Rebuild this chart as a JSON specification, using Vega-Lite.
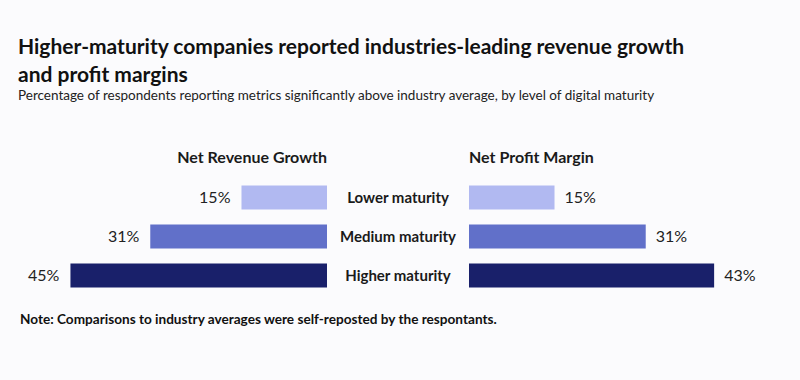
{
  "$schema": "https://vega.github.io/schema/vega-lite/v6.json",
  "background": "#fbfbfd",
  "padding": {"left": 18, "top": 36, "right": 30, "bottom": 50},
  "config": {
    "view": {"stroke": null},
    "font": "Lato",
    "concat": {"spacing": 0}
  },
  "title": {
    "text": ["Higher-maturity companies reported industries-leading revenue growth", "and profit margins"],
    "subtitle": "Percentage of respondents reporting metrics significantly above industry average, by level of  digital maturity",
    "anchor": "start",
    "font": "Lato",
    "fontSize": 21,
    "fontWeight": "bold",
    "lineHeight": 28,
    "color": "#111111",
    "subtitleFont": "Lato",
    "subtitleFontSize": 13.5,
    "subtitleColor": "#222222",
    "subtitlePadding": 3,
    "offset": 48
  },
  "data": {
    "values": [
      {"level": "Lower maturity", "revenue": 15, "profit": 15, "revenue_label": "15%", "profit_label": "15%"},
      {"level": "Medium maturity", "revenue": 31, "profit": 31, "revenue_label": "31%", "profit_label": "31%"},
      {"level": "Higher maturity", "revenue": 45, "profit": 43, "revenue_label": "45%", "profit_label": "43%"}
    ]
  },
  "vconcat": [
    {
      "hconcat": [
        {
          "width": 309,
          "height": {"step": 39},
          "title": {"text": "Net Revenue Growth", "anchor": "end", "font": "Lato", "fontSize": 16, "fontWeight": "bold", "color": "#1a1a1a", "offset": 12},
          "encoding": {
            "y": {"field": "level", "type": "nominal", "sort": ["Lower maturity", "Medium maturity", "Higher maturity"], "axis": null, "scale": {"type": "band", "paddingInner": 0, "paddingOuter": 0}}
          },
          "layer": [
            {
              "mark": {"type": "bar", "height": {"band": 0.62}},
              "encoding": {
                "x": {"field": "revenue", "type": "quantitative", "scale": {"domain": [0, 54.2], "reverse": true, "nice": false}, "axis": null},
                "color": {"field": "level", "type": "nominal", "scale": {"domain": ["Lower maturity", "Medium maturity", "Higher maturity"], "range": ["#b1b9f1", "#6170c9", "#19206a"]}, "legend": null}
              }
            },
            {
              "mark": {"type": "text", "align": "right", "baseline": "middle", "dx": -11, "fontSize": 16, "font": "Lato", "color": "#222222"},
              "encoding": {
                "x": {"field": "revenue", "type": "quantitative", "scale": {"domain": [0, 54.2], "reverse": true, "nice": false}, "axis": null},
                "text": {"field": "revenue_label"}
              }
            }
          ]
        },
        {
          "width": 142,
          "height": {"step": 39},
          "title": {"text": " ", "font": "Lato", "fontSize": 16, "fontWeight": "bold", "offset": 12},
          "mark": {"type": "text", "align": "center", "baseline": "middle", "fontSize": 15, "fontWeight": "bold", "font": "Lato", "color": "#1a1a1a"},
          "encoding": {
            "y": {"field": "level", "type": "nominal", "sort": ["Lower maturity", "Medium maturity", "Higher maturity"], "axis": null, "scale": {"type": "band", "paddingInner": 0, "paddingOuter": 0}, "bandPosition": 0.5},
            "x": {"datum": 0.5, "type": "quantitative", "scale": {"domain": [0, 1]}, "axis": null},
            "text": {"field": "level"}
          }
        },
        {
          "width": 301,
          "height": {"step": 39},
          "title": {"text": "Net Profit Margin", "anchor": "start", "font": "Lato", "fontSize": 16, "fontWeight": "bold", "color": "#1a1a1a", "offset": 12},
          "encoding": {
            "y": {"field": "level", "type": "nominal", "sort": ["Lower maturity", "Medium maturity", "Higher maturity"], "axis": null, "scale": {"type": "band", "paddingInner": 0, "paddingOuter": 0}}
          },
          "layer": [
            {
              "mark": {"type": "bar", "height": {"band": 0.62}},
              "encoding": {
                "x": {"field": "profit", "type": "quantitative", "scale": {"domain": [0, 52.8], "nice": false}, "axis": null},
                "color": {"field": "level", "type": "nominal", "scale": {"domain": ["Lower maturity", "Medium maturity", "Higher maturity"], "range": ["#b1b9f1", "#6170c9", "#19206a"]}, "legend": null}
              }
            },
            {
              "mark": {"type": "text", "align": "left", "baseline": "middle", "dx": 10, "fontSize": 16, "font": "Lato", "color": "#222222"},
              "encoding": {
                "x": {"field": "profit", "type": "quantitative", "scale": {"domain": [0, 52.8], "nice": false}, "axis": null},
                "text": {"field": "profit_label"}
              }
            }
          ]
        }
      ]
    },
    {
      "width": 700,
      "height": 20,
      "data": {"values": [{"note": "Note: Comparisons to industry averages were self-reposted by the respontants."}]},
      "mark": {"type": "text", "align": "left", "baseline": "middle", "dx": 2, "fontSize": 13.6, "fontWeight": "bold", "font": "Lato", "color": "#111111"},
      "encoding": {
        "x": {"datum": 0, "type": "quantitative", "scale": {"domain": [0, 1]}, "axis": null},
        "text": {"field": "note"}
      }
    }
  ],
  "spacing": 15
}
